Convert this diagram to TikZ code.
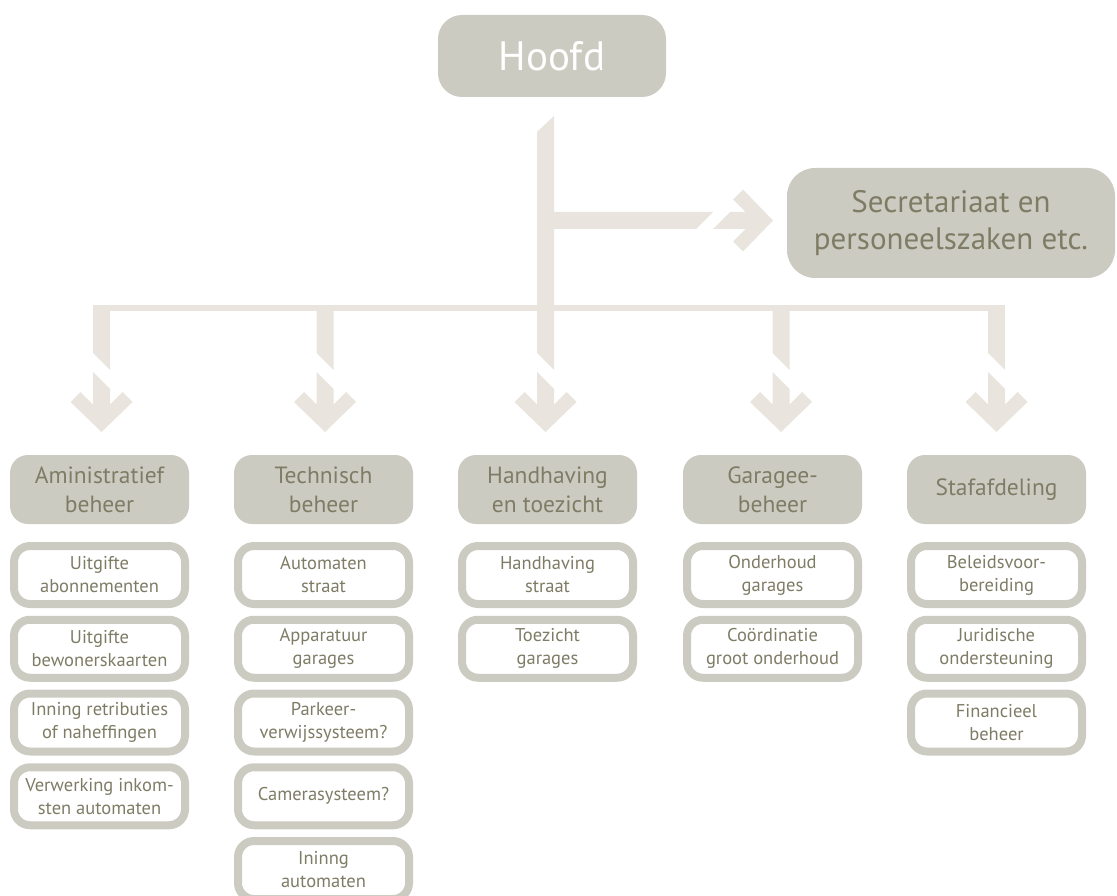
\documentclass[tikz,border=0pt]{standalone}
\usepackage{fontspec}
\setmainfont{PT Sans}
\usetikzlibrary{calc}
\definecolor{boxgray}{HTML}{CCCBC1}
\definecolor{arrowc}{HTML}{E9E4DD}
\definecolor{txt}{HTML}{7F7C66}
\tikzset{
  headbox/.style={fill=boxgray, text=txt, rounded corners=18pt, minimum width=179pt, minimum height=69pt, inner sep=0pt, align=center, font=\fontsize{23.5}{29}\selectfont},
  subbox/.style={draw=boxgray, line width=8pt, fill=white, rounded corners=16pt, minimum width=171pt, minimum height=58pt, inner sep=0pt, align=center, text=txt, font=\fontsize{18.5}{23}\selectfont},
  topbox/.style={fill=boxgray, rounded corners=24pt, inner sep=0pt, align=center},
  ahead/.pic={\fill[arrowc] (0,0) -- (-31,30) -- (-21,40) -- (-8.5,27.5) -- (-8.5,60) -- (8.5,43) -- (8.5,27.5) -- (21,40) -- (31,30) -- cycle;}
}
\begin{document}
\begin{tikzpicture}[x=1pt,y=1pt]
\useasboundingbox (0,0) rectangle (1117,-896);
% top boxes
\node[topbox, minimum width=228pt, minimum height=82pt, text=white, font=\fontsize{41}{44}\selectfont] (hoofd) at (552,-56) {Hoofd};
\node[topbox, rounded corners=28pt, minimum width=328pt, minimum height=110pt, text=txt, font=\fontsize{31}{37}\selectfont] (sec) at (951,-223) {Secretariaat en\\personeelszaken etc.};
% headers
\node[headbox] (a1) at (99.5,-489.5) {Aministratief\\beheer};
\node[headbox] (a2) at (323.5,-489.5) {Technisch\\beheer};
\node[headbox] (a3) at (547.5,-489.5) {Handhaving\\en toezicht};
\node[headbox] (a4) at (772.5,-489.5) {Garagee-\\beheer};
\node[headbox] (a5) at (996.5,-489.5) {Stafafdeling};
% sub boxes
\node[subbox] (a1s1) at (99.5,-575) {Uitgifte\\abonnementen};
\node[subbox] (a1s2) at (99.5,-648.75) {Uitgifte\\bewonerskaarten};
\node[subbox] (a1s3) at (99.5,-722.5) {Inning retributies\\of naheffingen};
\node[subbox] (a1s4) at (99.5,-796.25) {Verwerking inkom-\\sten automaten};
\node[subbox] (a2s1) at (323.5,-575) {Automaten\\straat};
\node[subbox] (a2s2) at (323.5,-648.75) {Apparatuur\\garages};
\node[subbox] (a2s3) at (323.5,-722.5) {Parkeer-\\verwijssysteem?};
\node[subbox] (a2s4) at (323.5,-796.25) {Camerasysteem?};
\node[subbox] (a2s5) at (323.5,-870) {Ininng\\automaten};
\node[subbox] (a3s1) at (547.5,-575) {Handhaving\\straat};
\node[subbox] (a3s2) at (547.5,-648.75) {Toezicht\\garages};
\node[subbox] (a4s1) at (772.5,-575) {Onderhoud\\garages};
\node[subbox] (a4s2) at (772.5,-648.75) {Coördinatie\\groot onderhoud};
\node[subbox] (a5s1) at (996.5,-575) {Beleidsvoor-\\bereiding};
\node[subbox] (a5s2) at (996.5,-648.75) {Juridische\\ondersteuning};
\node[subbox] (a5s3) at (996.5,-722.5) {Financieel\\beheer};
% connector coordinates
\coordinate (t1) at (101.5,-432);
\coordinate (t2) at (325,-432);
\coordinate (t3) at (545.5,-432);
\coordinate (t4) at (781,-432);
\coordinate (t5) at (996.5,-432);
\coordinate (tr) at (773,-220.5);
% trunk from Hoofd
\fill[arrowc] ($(t3)+(-8.5,300)$) -- ($(t3)+(8.5,316)$) -- ($(t3)+(8.5,62)$) -- ($(t3)+(-8.5,79)$) -- cycle;
% branch to secretariaat
\fill[arrowc] ($(tr)+(-219,8.5)$) -- ($(tr)+(-60,8.5)$) -- ($(tr)+(-77,-8.5)$) -- ($(tr)+(-219,-8.5)$) -- cycle;
\pic[rotate=90] at (tr) {ahead};
% horizontal distribution bar
\fill[arrowc] ($(t1)+(-8.5,127)$) rectangle ($(t5)+(8.5,121)$);
% drops
\foreach \t in {t1,t2,t4,t5}{
  \fill[arrowc] ($(\t)+(-8.5,127)$) -- ($(\t)+(8.5,127)$) -- ($(\t)+(8.5,62)$) -- ($(\t)+(-8.5,79)$) -- cycle;
}
\foreach \t in {t1,t2,t3,t4,t5}{ \pic at (\t) {ahead}; }
\end{tikzpicture}
\end{document}
